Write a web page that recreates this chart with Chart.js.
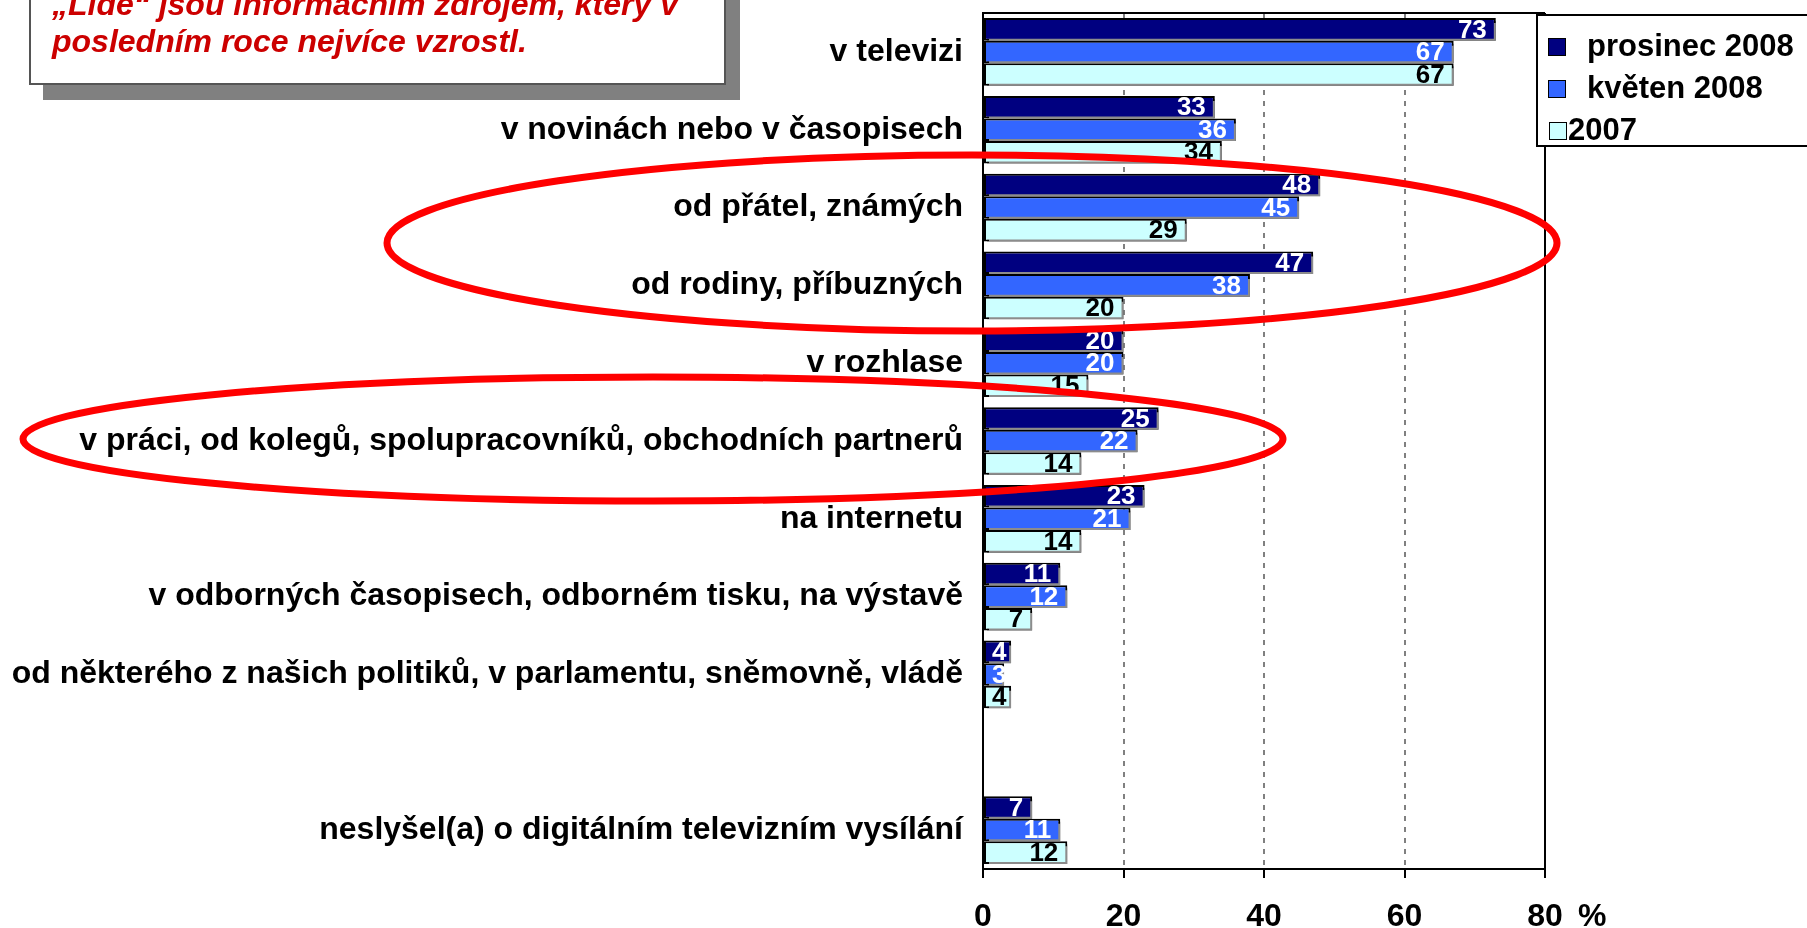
<!DOCTYPE html>
<html><head><meta charset="utf-8">
<script src="https://cdn.jsdelivr.net/npm/chart.js@4/dist/chart.umd.min.js"></script>
<style>
html,body{margin:0;padding:0;background:#fff;overflow:hidden;}
#wrap{position:relative;width:1807px;height:928px;overflow:hidden;background:#fff;}
#c{position:absolute;left:0;top:0;}
.callout{position:absolute;left:29px;top:-60px;width:693px;height:141px;border:2px solid #555;background:#fff;box-shadow:14px 15px 0 #808080;}
.cl{position:absolute;left:52px;font:italic bold 32px/37px "Liberation Sans",Arial,sans-serif;color:#CC0000;white-space:nowrap;}
#legend{position:absolute;left:1536px;top:14px;width:300px;height:129px;border:2px solid #000;background:#fff;}
.lg-sq{position:absolute;width:16px;height:16px;border:1.5px solid #000;}
.lg-tx{position:absolute;font:bold 31px/36px "Liberation Sans",Arial,sans-serif;color:#000;white-space:nowrap;}
svg{position:absolute;left:0;top:0;pointer-events:none;}
</style>
</head>
<body>
<div id="wrap">
<canvas id="c" width="1807" height="928"></canvas>
<svg width="1807" height="928" viewBox="0 0 1807 928">
  <ellipse cx="972" cy="243" rx="585" ry="88" fill="none" stroke="#FF0000" stroke-width="7"/>
  <ellipse cx="653" cy="439" rx="630" ry="62" fill="none" stroke="#FF0000" stroke-width="7"/>
</svg>
<div class="callout"></div>
<div class="cl" style="top:-14px">„Lidé“ jsou informačním zdrojem, který v</div>
<div class="cl" style="top:23px">posledním roce nejvíce vzrostl.</div>
<div id="legend"></div>
</div>
<script>
const categories = [
  "v televizi",
  "v novinách nebo v časopisech",
  "od přátel, známých",
  "od rodiny, příbuzných",
  "v rozhlase",
  "v práci, od kolegů, spolupracovníků, obchodních partnerů",
  "na internetu",
  "v odborných časopisech, odborném tisku, na výstavě",
  "od některého z našich politiků, v parlamentu, sněmovně, vládě",
  "",
  "neslyšel(a) o digitálním televizním vysílání"
];
const prosinec2008 = [73, 33, 48, 47, 20, 25, 23, 11, 4, null, 7];
const kveten2008   = [67, 36, 45, 38, 20, 22, 21, 12, 3, null, 11];
const rok2007      = [67, 34, 29, 20, 15, 14, 14, 7, 4, null, 12];
const seriesNames  = ["prosinec 2008", "květen 2008", "2007"];
const xTickValues  = [0, 20, 40, 60, 80];

const FONT = '"Liberation Sans", Arial, Helvetica, sans-serif';
const fills = ["#000080", "#3366FF", "#CCFFFF"];
const labelColors = ["#FFFFFF", "#FFFFFF", "#000000"];

// legend (HTML)
(function(){
  const lg = document.getElementById('legend');
  const sqLeft = [10, 10, 11], txLeft = [49, 49, 30], centers = [31, 73, 115];
  seriesNames.forEach((name, i) => {
    const sq = document.createElement('div');
    sq.className = 'lg-sq';
    sq.style.background = fills[i];
    sq.style.left = sqLeft[i] + 'px';
    sq.style.top = (centers[i] - 9) + 'px';
    lg.appendChild(sq);
    const tx = document.createElement('div');
    tx.className = 'lg-tx';
    tx.textContent = name;
    tx.style.left = txLeft[i] + 'px';
    tx.style.top = (centers[i] - 19) + 'px';
    lg.appendChild(tx);
  });
})();

const shadowAndLabels = {
  id: 'shadowAndLabels',
  beforeDatasetsDraw(chart) {
    const ctx = chart.ctx;
    ctx.save();
    ctx.shadowColor = '#8c8c8c';
    ctx.shadowOffsetX = 3;
    ctx.shadowOffsetY = 3;
    ctx.shadowBlur = 0;
  },
  afterDatasetsDraw(chart) {
    const ctx = chart.ctx;
    ctx.restore();
    ctx.save();
    ctx.font = 'bold 26px ' + FONT;
    ctx.textAlign = 'right';
    ctx.textBaseline = 'middle';
    chart.getSortedVisibleDatasetMetas().forEach(meta => {
      const ds = chart.data.datasets[meta.index];
      meta.data.forEach((bar, i) => {
        const v = ds.data[i];
        if (v === null || v === undefined) return;
        const txt = String(v);
        const w = ctx.measureText(txt).width;
        const right = Math.max(bar.x - 9, bar.base + 8 + w);
        ctx.fillStyle = labelColors[meta.index];
        ctx.fillText(txt, right, bar.y + 1);
      });
    });
    ctx.restore();
  },
  afterDraw(chart) {
    const ctx = chart.ctx;
    const a = chart.chartArea;
    ctx.save();
    ctx.strokeStyle = '#000';
    ctx.lineWidth = 2;
    ctx.beginPath();
    ctx.moveTo(a.left, Math.round(a.top));
    ctx.lineTo(a.right, Math.round(a.top));
    ctx.moveTo(Math.round(a.right), a.top);
    ctx.lineTo(Math.round(a.right), a.bottom);
    ctx.stroke();
    const xs = chart.scales.x;
    const px = xs.getPixelForValue(80);
    ctx.font = 'bold 32px ' + FONT;
    ctx.fillStyle = '#000';
    ctx.textAlign = 'left';
    ctx.textBaseline = 'middle';
    ctx.fillText('%', px + 33, xs.top + 9 + 20 + 32 * 1.2 / 2);
    ctx.restore();
  }
};

new Chart(document.getElementById('c'), {
  type: 'bar',
  data: {
    labels: categories,
    datasets: [
      { label: seriesNames[0], data: prosinec2008, backgroundColor: fills[0] },
      { label: seriesNames[1], data: kveten2008, backgroundColor: fills[1] },
      { label: seriesNames[2], data: rok2007, backgroundColor: fills[2] }
    ]
  },
  options: {
    indexAxis: 'y',
    responsive: false,
    animation: false,
    devicePixelRatio: 1,
    layout: { padding: { left: 0, top: 13, right: 262, bottom: 0 } },
    datasets: {
      bar: { categoryPercentage: 0.87, barPercentage: 1.0, borderColor: '#000', borderWidth: 2, borderSkipped: false }
    },
    plugins: { legend: { display: false }, tooltip: { enabled: false } },
    scales: {
      x: {
        type: 'linear',
        position: 'bottom',
        min: 0, max: 80,
        afterBuildTicks: s => { s.ticks = xTickValues.map(v => ({ value: v })); },
        ticks: { font: { size: 32, weight: 'bold', family: FONT }, color: '#000', padding: 20, maxRotation: 0, autoSkip: false },
        grid: {
          color: c => (c.tick && (c.tick.value === 0 || c.tick.value === 80)) ? 'rgba(0,0,0,0)' : '#808080',
          lineWidth: 2,
          drawTicks: true, tickLength: 9, tickColor: '#000', tickWidth: 2, tickBorderDash: []
        },
        border: { display: true, color: '#000', width: 2, dash: [5, 6] },
        afterFit: s => { s.height = 59; s.paddingLeft = 0; s.paddingRight = 0; }
      },
      y: {
        type: 'category',
        grid: { display: false, drawTicks: false },
        border: { display: true, color: '#000', width: 2 },
        ticks: { font: { size: 32, weight: 'bold', family: FONT }, color: '#000', padding: 20, autoSkip: false },
        afterFit: s => { s.width = 983; s.paddingTop = 0; s.paddingBottom = 0; }
      }
    }
  },
  plugins: [shadowAndLabels]
});
</script>
</body></html>
